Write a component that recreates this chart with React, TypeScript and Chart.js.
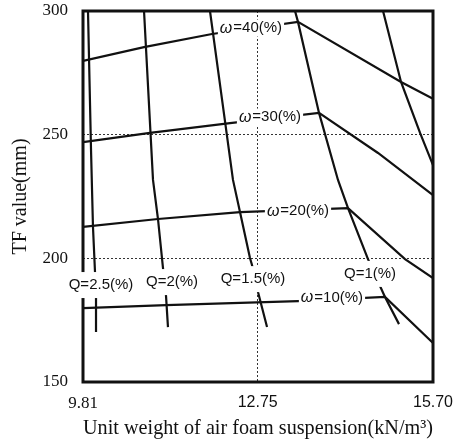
import { useEffect, useRef } from 'react';
import { Chart, registerables } from 'chart.js';

Chart.register(...registerables);

// Axis ticks
const xTicks = [9.81, 12.75, 15.7];
const yTicks = [150, 200, 250, 300];

// ω contours (water content)
const w40X = [9.81, 10.837, 11.981, 13.428, 15.162, 15.7];
const w40Y = [279.8, 285.4, 290.7, 295.6, 271.3, 264.5];
const w30X = [9.81, 10.938, 12.284, 13.782, 14.775, 15.7];
const w30Y = [247.0, 250.7, 254.7, 258.8, 242.6, 225.6];
const w20X = [9.81, 11.072, 12.452, 14.27, 15.229, 15.7];
const w20Y = [212.7, 215.9, 218.7, 220.3, 199.7, 192.0];
const w10X = [9.81, 11.207, 13.428, 14.892, 15.7];
const w10Y = [179.9, 181.1, 182.7, 184.4, 165.8];

// Q contours
const q25X = [9.894, 9.945, 9.978, 10.012, 10.029, 10.029];
const q25Y = [300, 243.8, 212.7, 194.5, 184.0, 170.2];
const q2X = [10.837, 10.988, 11.072, 11.156, 11.207, 11.24];
const q2Y = [300, 231.7, 215.9, 196.1, 184.8, 172.2];
const q15X = [11.947, 12.334, 12.452, 12.62, 12.654, 12.755, 12.907];
const q15Y = [300, 231.7, 218.7, 200.1, 197.3, 186.4, 172.2];
const q1X = [13.378, 13.428, 13.782, 14.101, 14.27, 14.606, 14.808, 14.892, 15.128];
const q1Y = [300, 295.6, 258.8, 231.7, 220.3, 199.7, 188.8, 184.4, 173.4];
const q05X = [14.859, 15.162, 15.482, 15.7];
const q05Y = [300, 271.3, 250.7, 237.7];

// Curve labels (anchored in data units)
const qLabelText = ['Q=2.5(%)', 'Q=2(%)', 'Q=1.5(%)', 'Q=1(%)'];
const qLabelX = [10.113, 11.308, 12.671, 14.64];
const qLabelY = [189.2, 190.4, 191.6, 193.7];
const wLabelText = ['=40(%)', '=30(%)', '=20(%)', '=10(%)'];
const wLabelX = [12.637, 12.957, 13.428, 14.0];
const wLabelY = [293.1, 257.1, 219.1, 184.0];

const xTitle = 'Unit weight of air foam suspension(kN/m\u00B3)';
const yTitle = 'TF value(mm)';

const pts = (xs: number[], ys: number[]) => xs.map((x, i) => ({ x, y: ys[i] }));

const curves = [
  pts(w40X, w40Y),
  pts(w30X, w30Y),
  pts(w20X, w20Y),
  pts(w10X, w10Y),
  pts(q25X, q25Y),
  pts(q2X, q2Y),
  pts(q15X, q15Y),
  pts(q1X, q1Y),
  pts(q05X, q05Y),
];

const framePlugin = {
  id: 'frame',
  afterDatasetsDraw(chart: any) {
    const { ctx, chartArea: a } = chart;
    ctx.save();
    ctx.strokeStyle = '#111';
    ctx.lineWidth = 3;
    ctx.strokeRect(a.left, a.top, a.right - a.left, a.bottom - a.top);
    ctx.restore();
  },
};

const labelPlugin = {
  id: 'curveLabels',
  afterDraw(chart: any) {
    const { ctx, scales } = chart;
    const xs = scales.x;
    const ys = scales.y;
    ctx.save();
    ctx.textBaseline = 'middle';
    ctx.textAlign = 'left';
    const plain = '15px "Liberation Sans"';
    const ital = 'italic 16px "Liberation Sans"';
    qLabelText.forEach((t, i) => {
      const cx = xs.getPixelForValue(qLabelX[i]);
      const cy = ys.getPixelForValue(qLabelY[i]);
      ctx.font = plain;
      const w = ctx.measureText(t).width;
      ctx.fillStyle = '#fff';
      ctx.fillRect(cx - w / 2 - 1, cy - 13, w + 2, 26);
      ctx.fillStyle = '#111';
      ctx.fillText(t, cx - w / 2, cy);
    });
    wLabelText.forEach((t, i) => {
      const cx = xs.getPixelForValue(wLabelX[i]);
      const cy = ys.getPixelForValue(wLabelY[i]);
      ctx.font = ital;
      const w1 = ctx.measureText('\u03C9').width;
      ctx.font = plain;
      const w2 = ctx.measureText(t).width;
      const w = w1 + w2 + 1;
      ctx.fillStyle = '#fff';
      ctx.fillRect(cx - w / 2 - 2, cy - 8.5, w + 4, 17);
      ctx.fillStyle = '#111';
      ctx.font = ital;
      ctx.fillText('\u03C9', cx - w / 2, cy);
      ctx.font = plain;
      ctx.fillText(t, cx - w / 2 + w1 + 1, cy);
    });
    ctx.restore();
  },
};

export default function App() {
  const ref = useRef<HTMLCanvasElement | null>(null);
  useEffect(() => {
    if (!ref.current) return;
    const chart = new Chart(ref.current, {
      type: 'line',
      data: {
        datasets: curves.map((d) => ({
          data: d,
          borderColor: '#111',
          borderWidth: 2.2,
          pointRadius: 0,
          fill: false,
          tension: 0,
        })),
      },
      options: {
        responsive: false,
        animation: false,
        layout: { padding: { top: 11, right: 23, left: 0, bottom: 0 } },
        plugins: { legend: { display: false }, tooltip: { enabled: false } },
        scales: {
          x: {
            type: 'linear',
            min: 9.81,
            max: 15.7,
            afterBuildTicks: (s: any) => {
              s.ticks = xTicks.map((v) => ({ value: v }));
            },
            afterFit: (s: any) => {
              s.height = 59;
              s.paddingLeft = 0;
              s.paddingRight = 0;
              s.paddingTop = 0;
              s.paddingBottom = 0;
            },
            ticks: {
              color: '#111',
              padding: 11,
              maxRotation: 0,
              autoSkip: false,
              callback: (v: any) => Number(v).toFixed(2),
              font: (c: any) =>
                c.index === 0
                  ? { family: '"Liberation Serif"', size: 17 }
                  : { family: '"Liberation Sans"', size: 16 },
            },
            grid: { color: '#333', lineWidth: 1, drawTicks: false },
            border: { display: false, dash: [2, 2] },
            title: {
              display: true,
              text: xTitle,
              color: '#111',
              font: { family: '"Liberation Serif"', size: 21 },
              padding: { top: 0, bottom: 0 },
            },
          },
          y: {
            type: 'linear',
            min: 150,
            max: 300,
            afterBuildTicks: (s: any) => {
              s.ticks = yTicks.map((v) => ({ value: v }));
            },
            afterFit: (s: any) => {
              s.width = 83;
              s.paddingLeft = 0;
              s.paddingRight = 0;
              s.paddingTop = 0;
              s.paddingBottom = 0;
            },
            ticks: {
              color: '#111',
              padding: 15,
              autoSkip: false,
              callback: (v: any) => String(v),
              font: { family: '"Liberation Serif"', size: 17 },
            },
            grid: { color: '#333', lineWidth: 1, drawTicks: false },
            border: { display: false, dash: [2, 2] },
            title: {
              display: true,
              text: yTitle,
              color: '#111',
              font: { family: '"Liberation Serif"', size: 20 },
              padding: { top: 9, bottom: 0 },
            },
          },
        },
      },
      plugins: [framePlugin, labelPlugin],
    } as any);
    return () => chart.destroy();
  }, []);
  return (
    <div style={{ position: 'fixed', left: 0, top: 0, width: 456, height: 441, background: '#fff' }}>
      <canvas ref={ref} width={456} height={441} />
    </div>
  );
}
